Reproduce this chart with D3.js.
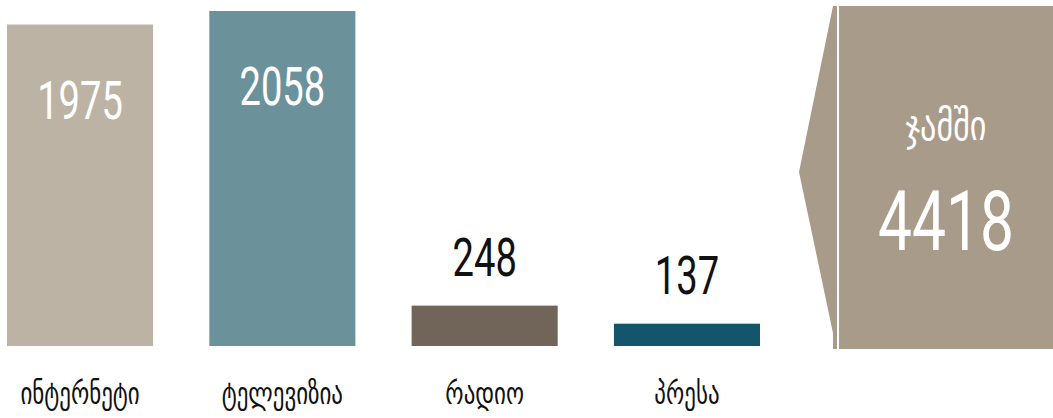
<!DOCTYPE html>
<html>
<head>
<meta charset="utf-8">
<script src="https://cdn.jsdelivr.net/npm/d3@7/dist/d3.min.js"></script>
<style>
  html, body { margin: 0; padding: 0; background: #fff; }
  svg { display: block; }
</style>
</head>
<body>
<script>
const categories = ["ინტერნეტი", "ტელევიზია", "რადიო", "პრესა"];
const values = [1975, 2058, 248, 137];
const colors = ["#bdb3a5", "#6b929b", "#71655a", "#13566b"];
const totalLabel = "ჯამში";
const totalValue = 4418;

const W = 1053, H = 418;
const svg = d3.select("body").append("svg").attr("width", W).attr("height", H);

const x = d3.scaleBand().domain(categories).range([7, 760]).paddingInner(0.278).paddingOuter(0);
const y = d3.scaleLinear().domain([0, d3.max(values)]).range([346, 11]);

const numFont = "Roboto, 'Liberation Sans', sans-serif";
const geoFont = "'DejaVu Sans Condensed', 'DejaVu Sans', sans-serif";
const sx = 0.72;

const data = categories.map((c, i) => ({ c, v: values[i], color: colors[i] }));

svg.selectAll("rect.bar").data(data).join("rect")
  .attr("class", "bar")
  .attr("x", d => x(d.c))
  .attr("y", d => y(d.v))
  .attr("width", x.bandwidth())
  .attr("height", d => y(0) - y(d.v))
  .attr("fill", d => d.color);

svg.selectAll("text.val").data(data).join("text")
  .attr("class", "val")
  .attr("transform", d => {
    const inside = (y(0) - y(d.v)) > 100;
    const yy = inside ? y(d.v) + 94 : y(d.v) - 30;
    return `translate(${x(d.c) + x.bandwidth() / 2},${yy}) scale(${sx},1)`;
  })
  .attr("text-anchor", "middle")
  .attr("font-family", numFont)
  .attr("font-size", 53)
  .attr("fill", d => (y(0) - y(d.v)) > 100 ? "#ffffff" : "#111111")
  .text(d => d.v);

svg.selectAll("text.cat").data(data).join("text")
  .attr("class", "cat")
  .attr("transform", d => `translate(${x(d.c) + x.bandwidth() / 2},404) scale(0.85,1)`)
  .attr("text-anchor", "middle")
  .attr("font-family", geoFont)
  .attr("font-size", 30)
  .attr("fill", "#111111")
  .text(d => d.c);

const tg = svg.append("g");
const boxL = 833, boxT = 6, boxB = 349, tipX = 799, tipY = 172;
tg.append("path")
  .attr("d", `M${boxL},${boxT} L${W},${boxT} L${W},${boxB} L${boxL},${boxB} L${boxL},${boxB - 16} L${tipX},${tipY} Z`)
  .attr("fill", "#a89b8a");
tg.append("rect").attr("x", 837).attr("y", boxT).attr("width", 2).attr("height", boxB - boxT).attr("fill", "#ffffff");

const cx = (839 + W) / 2;
tg.append("text")
  .attr("transform", `translate(${cx},140) scale(0.85,1)`)
  .attr("text-anchor", "middle")
  .attr("font-family", geoFont)
  .attr("font-size", 42)
  .attr("fill", "#ffffff")
  .text(totalLabel);
tg.append("text")
  .attr("transform", `translate(${cx},250) scale(${sx},1)`)
  .attr("text-anchor", "middle")
  .attr("font-family", numFont)
  .attr("font-size", 84)
  .attr("fill", "#ffffff")
  .text(totalValue);
</script>
</body>
</html>
